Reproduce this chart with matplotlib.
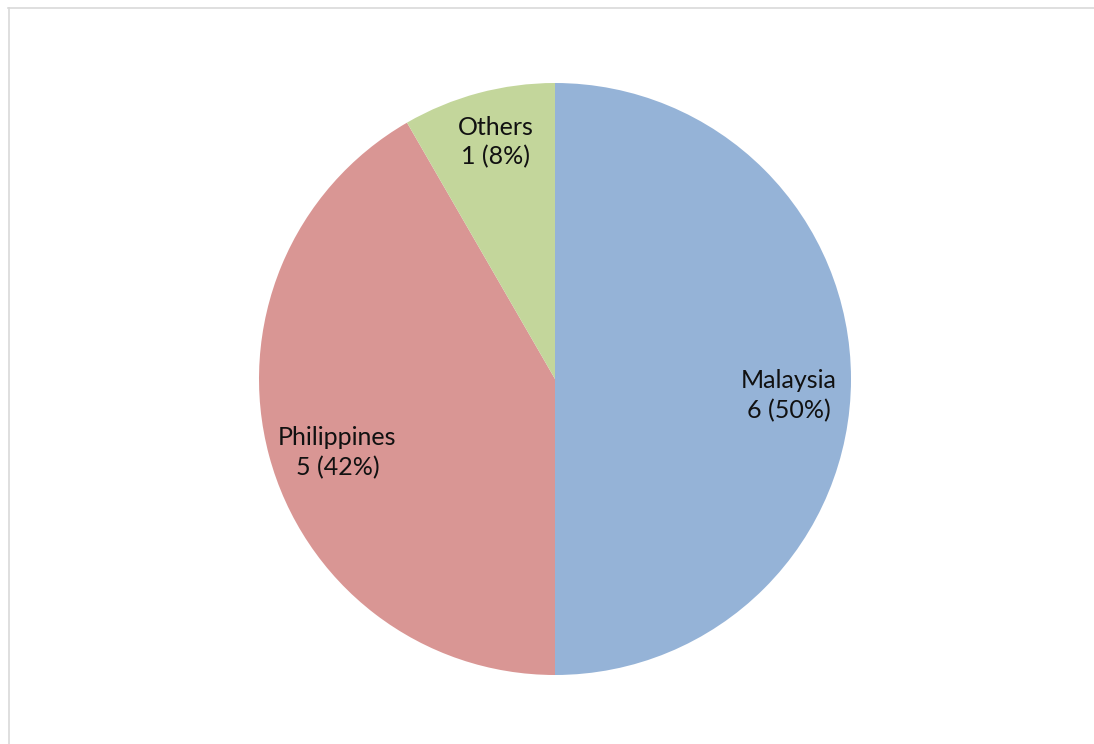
import matplotlib
matplotlib.use("Agg")
import matplotlib.pyplot as plt
from matplotlib.lines import Line2D

categories = ["Malaysia", "Philippines", "Others"]
values = [6, 5, 1]
percents = ["50%", "42%", "8%"]
colors = ["#95B3D7", "#D99694", "#C3D69B"]

W, H = 1094, 744
fig = plt.figure(figsize=(W / 100, H / 100), dpi=100)
fig.patch.set_facecolor("white")

cx, cy, r = 555, 379, 296
ax = fig.add_axes([(cx - r) / W, (H - cy - r) / H, 2 * r / W, 2 * r / H])
ax.pie(values, colors=colors, startangle=90, counterclock=False, radius=1,
       wedgeprops=dict(linewidth=0))
ax.set_xlim(-1, 1)
ax.set_ylim(-1, 1)
ax.axis("off")

label_pos = [(0.79, -0.055), (-0.735, -0.25), (-0.2, 0.80)]
for name, v, p, (x, y) in zip(categories, values, percents, label_pos):
    ax.text(x, y, f"{name}\n{v} ({p})", ha="center", va="center",
            fontsize=18, family="Lato", color="#111111", linespacing=1.35)

fig.add_artist(Line2D([8 / W, 1], [1 - 7.5 / H, 1 - 7.5 / H], color="#d9d9d9",
                      lw=1.2, transform=fig.transFigure))
fig.add_artist(Line2D([8.5 / W, 8.5 / W], [0, 1 - 7.5 / H], color="#d9d9d9",
                      lw=1.2, transform=fig.transFigure))

fig.savefig("out.png", dpi=100)
